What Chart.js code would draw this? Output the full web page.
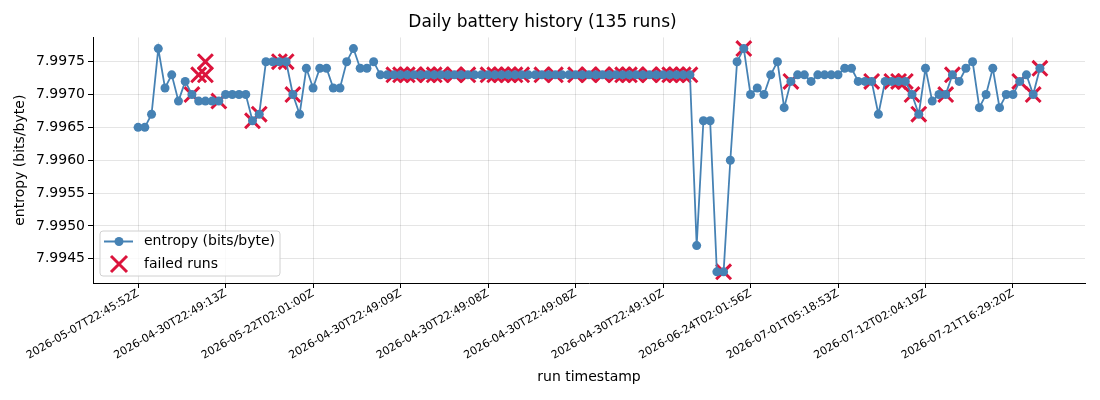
<!DOCTYPE html>
<html lang="en">
<head>
<meta charset="UTF-8">
<title>Daily battery history</title>
<script src="https://cdn.jsdelivr.net/npm/chart.js"></script>
<style>
  html, body { margin: 0; padding: 0; background: #fff; }
  #wrap { width: 1100px; height: 400px; }
</style>
</head>
<body>
<div id="wrap"><canvas id="historyChart" width="1100" height="400"></canvas></div>
<script>
// run index of each labelled tick, and its timestamp
const tickIdx = [0, 13, 26, 39, 52, 65, 78, 91, 104, 117, 130];
const tickLabels = [
    '2026-05-07T22:45:52Z', '2026-04-30T22:49:13Z', '2026-05-22T02:01:00Z',
    '2026-04-30T22:49:09Z', '2026-04-30T22:49:08Z', '2026-04-30T22:49:08Z',
    '2026-04-30T22:49:10Z', '2026-06-24T02:01:56Z', '2026-07-01T05:18:53Z',
    '2026-07-12T02:04:19Z', '2026-07-21T16:29:20Z'
];
const yTicks = [7.9945, 7.9950, 7.9955, 7.9960, 7.9965, 7.9970, 7.9975];

// entropy per run (bits/byte), 135 runs
const entropy = [
    7.9965, 7.9965, 7.9967, 7.9977, 7.9971, 7.9973, 7.9969, 7.9972, 7.9970, 7.9969,
    7.9969, 7.9969, 7.9969, 7.9970, 7.9970, 7.9970, 7.9970, 7.9966, 7.9967, 7.9975,
    7.9975, 7.9975, 7.9975, 7.9970, 7.9967, 7.9974, 7.9971, 7.9974, 7.9974, 7.9971,
    7.9971, 7.9975, 7.9977, 7.9974, 7.9974, 7.9975, 7.9973, 7.9973, 7.9973, 7.9973,
    7.9973, 7.9973, 7.9973, 7.9973, 7.9973, 7.9973, 7.9973, 7.9973, 7.9973, 7.9973,
    7.9973, 7.9973, 7.9973, 7.9973, 7.9973, 7.9973, 7.9973, 7.9973, 7.9973, 7.9973,
    7.9973, 7.9973, 7.9973, 7.9973, 7.9973, 7.9973, 7.9973, 7.9973, 7.9973, 7.9973,
    7.9973, 7.9973, 7.9973, 7.9973, 7.9973, 7.9973, 7.9973, 7.9973, 7.9973, 7.9973,
    7.9973, 7.9973, 7.9973, 7.9947, 7.9966, 7.9966, 7.9943, 7.9943, 7.9960, 7.9975,
    7.9977, 7.9970, 7.9971, 7.9970, 7.9973, 7.9975, 7.9968, 7.9972, 7.9973, 7.9973,
    7.9972, 7.9973, 7.9973, 7.9973, 7.9973, 7.9974, 7.9974, 7.9972, 7.9972, 7.9972,
    7.9967, 7.9972, 7.9972, 7.9972, 7.9972, 7.9970, 7.9967, 7.9974, 7.9969, 7.9970,
    7.9970, 7.9973, 7.9972, 7.9974, 7.9975, 7.9968, 7.9970, 7.9974, 7.9968, 7.9970,
    7.9970, 7.9972, 7.9973, 7.9970, 7.9974
];

// failed runs: position on the run axis and entropy value
const failedIdx = [
    8, 9, 10, 10, 12, 17, 18, 21, 22, 23,
    38, 39, 40, 41, 43, 44, 45, 47, 49, 52,
    53, 54, 55, 56, 57, 60, 62, 65, 67, 69,
    71, 72, 73, 74, 76, 78, 79, 80, 81, 82,
    87, 90, 97, 109, 112, 113, 114, 115, 116, 120,
    121, 131, 133, 134
];
const failedVal = [
    7.9970, 7.9973, 7.9975, 7.9973, 7.9969, 7.9966, 7.9967, 7.9975, 7.9975, 7.9970,
    7.9973, 7.9973, 7.9973, 7.9973, 7.9973, 7.9973, 7.9973, 7.9973, 7.9973, 7.9973,
    7.9973, 7.9973, 7.9973, 7.9973, 7.9973, 7.9973, 7.9973, 7.9973, 7.9973, 7.9973,
    7.9973, 7.9973, 7.9973, 7.9973, 7.9973, 7.9973, 7.9973, 7.9973, 7.9973, 7.9973,
    7.9943, 7.9977, 7.9972, 7.9972, 7.9972, 7.9972, 7.9972, 7.9970, 7.9967, 7.9970,
    7.9973, 7.9972, 7.9970, 7.9974
];

const BLUE = '#4682b4';
const RED = '#dc143c';

Chart.defaults.font.family = "'DejaVu Sans', sans-serif";
Chart.defaults.color = '#000';

function drawCross(ctx, x, y, arm) {
    ctx.save();
    ctx.strokeStyle = RED;
    ctx.lineWidth = 3;
    ctx.beginPath();
    ctx.moveTo(x - arm, y - arm); ctx.lineTo(x + arm, y + arm);
    ctx.moveTo(x - arm, y + arm); ctx.lineTo(x + arm, y - arm);
    ctx.stroke();
    ctx.restore();
}

// matplotlib-style legend inside the lower left of the plot
const innerLegend = {
    id: 'innerLegend',
    afterDraw(chart) {
        const ctx = chart.ctx;
        const area = chart.chartArea;
        const x = area.left + 7, w = 180, h = 45;
        const y = area.bottom - 7 - h;
        ctx.save();
        ctx.beginPath();
        ctx.roundRect(x, y, w, h, 3);
        ctx.fillStyle = 'rgba(255,255,255,0.8)';
        ctx.fill();
        ctx.strokeStyle = '#d0d0d0';
        ctx.lineWidth = 1;
        ctx.stroke();

        const row1 = y + 10.5, row2 = y + 33;
        ctx.strokeStyle = BLUE;
        ctx.lineWidth = 2;
        ctx.beginPath();
        ctx.moveTo(x + 4, row1); ctx.lineTo(x + 33, row1);
        ctx.stroke();
        ctx.fillStyle = BLUE;
        ctx.beginPath();
        ctx.arc(x + 19, row1, 4.5, 0, Math.PI * 2);
        ctx.fill();
        drawCross(ctx, x + 19, row2, 8);

        ctx.fillStyle = '#000';
        ctx.font = "14px 'DejaVu Sans'";
        ctx.textBaseline = 'middle';
        ctx.fillText('entropy (bits/byte)', x + 44, row1);
        ctx.fillText('failed runs', x + 44, row2);
        ctx.restore();
    }
};

const lineData = entropy.map((v, i) => ({ x: i, y: v }));
const failedData = failedIdx.map((v, i) => ({ x: v, y: failedVal[i] }));

new Chart(document.getElementById('historyChart'), {
    type: 'line',
    data: {
        datasets: [{
            label: 'entropy (bits/byte)',
            data: lineData,
            borderColor: BLUE,
            backgroundColor: BLUE,
            borderWidth: 1.8,
            pointRadius: 4.5,
            pointBorderWidth: 0,
            pointBackgroundColor: BLUE,
            tension: 0,
            fill: false,
            order: 0
        }, {
            type: 'scatter',
            label: 'failed runs',
            data: failedData,
            showLine: false,
            pointStyle: 'crossRot',
            pointRadius: 10.5,
            pointBorderWidth: 3,
            borderColor: RED,
            backgroundColor: RED,
            order: 1
        }]
    },
    options: {
        responsive: false,
        animation: false,
        devicePixelRatio: 1,
        layout: { padding: { left: 0, right: 15, top: 0, bottom: 0 } },
        plugins: {
            legend: { display: false },
            tooltip: { enabled: false },
            title: {
                display: true,
                text: 'Daily battery history (135 runs)',
                font: { size: 17, weight: 'normal' },
                color: '#000',
                padding: { top: 12, bottom: 5 }
            }
        },
        scales: {
            x: {
                type: 'linear',
                min: -6.7,
                max: 140.7,
                afterBuildTicks: axis => { axis.ticks = tickIdx.map(v => ({ value: v })); },
                afterFit: scale => { scale.height = 117; },
                ticks: {
                    autoSkip: false,
                    minRotation: 30,
                    maxRotation: 30,
                    padding: -1,
                    font: { size: 11 },
                    color: '#000',
                    callback: v => tickLabels[tickIdx.indexOf(v)]
                },
                grid: { color: 'rgba(0,0,0,0.1)', tickColor: '#000', tickLength: 5 },
                border: { display: true, color: '#000', width: 1 },
                title: {
                    display: true,
                    text: 'run timestamp',
                    font: { size: 14 },
                    color: '#000',
                    padding: { top: 4, bottom: 14 }
                }
            },
            y: {
                min: 7.99413,
                max: 7.99787,
                afterBuildTicks: axis => { axis.ticks = yTicks.map(v => ({ value: v })); },
                afterFit: scale => { scale.width = 93; },
                ticks: {
                    padding: 3,
                    font: { size: 14 },
                    color: '#000',
                    callback: v => v.toFixed(4)
                },
                grid: { color: 'rgba(0,0,0,0.1)', tickColor: '#000', tickLength: 5 },
                border: { display: true, color: '#000', width: 1 },
                title: {
                    display: true,
                    text: 'entropy (bits/byte)',
                    font: { size: 14 },
                    color: '#000',
                    padding: { top: 12, bottom: 0 }
                }
            }
        }
    },
    plugins: [innerLegend]
});
</script>
</body>
</html>
